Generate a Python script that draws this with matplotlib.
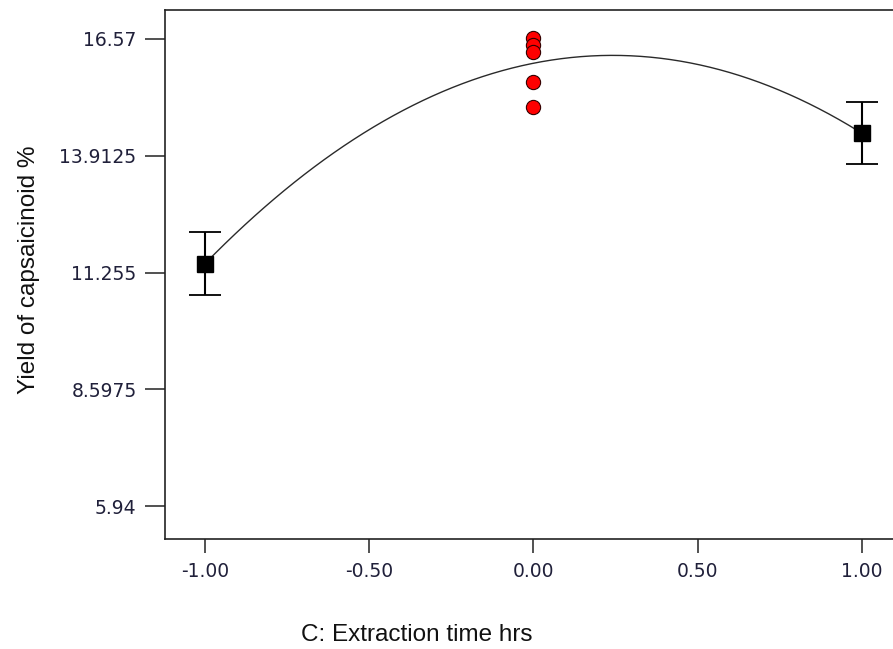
import numpy as np
import matplotlib.pyplot as plt

# design points (coded levels) and predicted means with 95% CI half widths
factor_levels = [-1.0, 1.0]
factor_means = [11.459, 14.428]
factor_ci = [0.72, 0.71]

# replicated centre points
center_x = [0.0, 0.0, 0.0, 0.0, 0.0]
center_y = [16.586, 16.434, 16.282, 15.586, 15.032]

# model prediction at -1, 0, +1 used to draw the quadratic response
model_x = [-1.0, 0.0, 1.0]
model_y = [11.459, 16.018, 14.428]

yticks = [5.94, 8.5975, 11.255, 13.9125, 16.57]
yticklabels = ['5.94', '8.5975', '11.255', '13.9125', '16.57']
xticks = [-1.0, -0.5, 0.0, 0.5, 1.0]
xticklabels = ['-1.00', '-0.50', '0.00', '0.50', '1.00']

plt.rcParams['font.family'] = ['Liberation Sans', 'DejaVu Sans']

fig = plt.figure(figsize=(8.93, 6.49), dpi=100)
ax = fig.add_axes([165 / 893, 1 - 539 / 649, 1.0 - 165 / 893 + 0.001, (539 - 10) / 649])

coef = np.polyfit(model_x, model_y, 2)
xs = np.linspace(model_x[0], model_x[-1], 200)
ax.plot(xs, np.polyval(coef, xs), color='#2a2a2a', lw=1.0, zorder=2)

ax.errorbar(factor_levels, factor_means, yerr=factor_ci, fmt='s', color='black',
            ms=11, elinewidth=1.5, capsize=11.5, capthick=1.3, zorder=3)
ax.scatter(center_x, center_y, s=105, color='#ff0000', edgecolor='#330000',
           linewidth=0.8, zorder=4)

ax.set_xlim(-1.122, 1.098)
ax.set_ylim(5.19, 17.23)
ax.set_xticks(xticks)
ax.set_xticklabels(xticklabels, family='DejaVu Sans')
ax.set_yticks(yticks)
ax.set_yticklabels(yticklabels, family='DejaVu Sans')

for s in ['left', 'bottom', 'top']:
    ax.spines[s].set_color('#222222')
    ax.spines[s].set_linewidth(1.2)
ax.spines['right'].set_visible(False)

ax.tick_params(axis='y', direction='out', length=14.5, width=1.2, color='#333333',
               pad=6.0, labelsize=13.5, labelcolor='#20203a')
ax.tick_params(axis='x', direction='out', length=10, width=1.2, color='#333333',
               pad=6.5, labelsize=13.5, labelcolor='#20203a')

fig.text(417 / 893, 1 - 635 / 649, 'C: Extraction time hrs', ha='center', va='center',
         fontsize=17.5, color='#111111')
fig.text(29 / 893, 1 - 270 / 649, 'Yield of capsaicinoid %', ha='center', va='center',
         rotation=90, fontsize=17.5, color='#111111')

fig.savefig('out.png', dpi=100)
